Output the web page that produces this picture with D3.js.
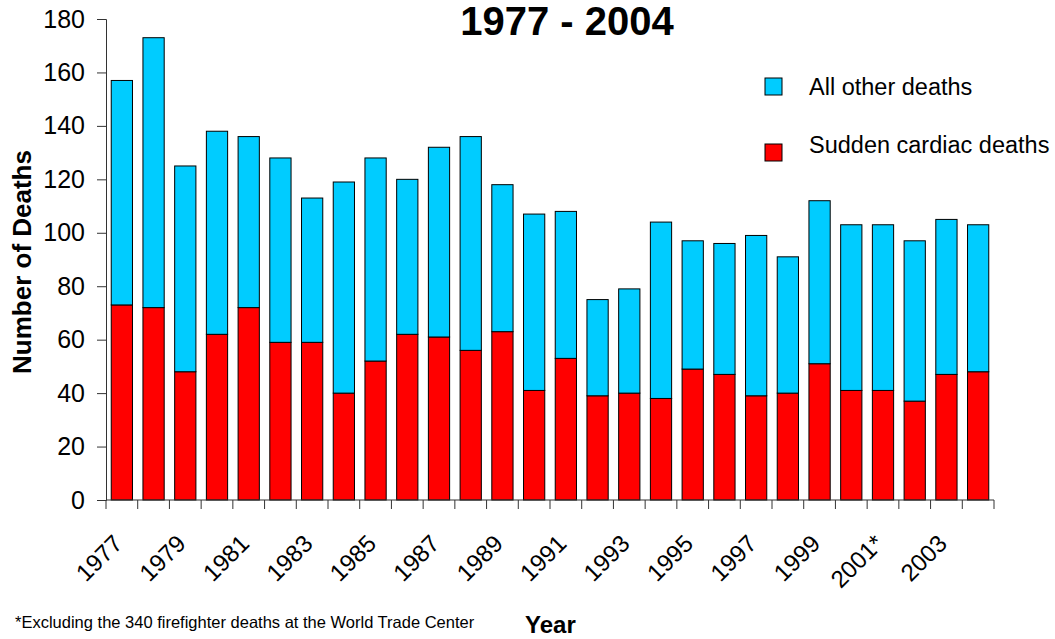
<!DOCTYPE html>
<html>
<head>
<meta charset="utf-8">
<script src="https://cdn.jsdelivr.net/npm/d3@7/dist/d3.min.js"></script>
<style>
  body { margin: 0; background: #fff; }
  svg { display: block; font-family: "Liberation Sans", Arial, sans-serif; }
</style>
</head>
<body>
<svg id="chart" width="1055" height="639"></svg>
<script>
// data
const years = ["1977","1978","1979","1980","1981","1982","1983","1984","1985","1986",
  "1987","1988","1989","1990","1991","1992","1993","1994","1995","1996",
  "1997","1998","1999","2000","2001*","2002","2003","2004"];
const suddenCardiac = [73,72,48,62,72,59,59,40,52,62,61,56,63,41,53,39,40,38,49,47,39,40,51,41,41,37,47,48];
const allOther = [84,101,77,76,64,69,54,79,76,58,71,80,55,66,55,36,39,66,48,49,60,51,61,62,62,60,58,55];
const yTicks = [0,20,40,60,80,100,120,140,160,180];
const seriesNames = ["All other deaths", "Sudden cardiac deaths"];
const seriesColors = ["#00ccff", "#ff0000"];

const svg = d3.select("#chart");

const x = d3.scaleBand().domain(years).range([106, 994]).paddingInner(0.33).paddingOuter(0.165);
const y = d3.scaleLinear().domain([0, 180]).range([500, 19]);

const rows = years.map((yr, i) => ({ year: yr, cardiac: suddenCardiac[i], other: allOther[i] }));
const stacked = d3.stack().keys(["cardiac", "other"])(rows);
const colorOf = { cardiac: seriesColors[1], other: seriesColors[0] };

// bars
svg.append("g")
  .selectAll("g")
  .data(stacked)
  .enter()
  .append("g")
  .attr("fill", d => colorOf[d.key])
  .selectAll("rect")
  .data(d => d)
  .enter()
  .append("rect")
  .attr("x", d => x(d.data.year))
  .attr("y", d => y(d[1]))
  .attr("width", x.bandwidth())
  .attr("height", d => y(d[0]) - y(d[1]))
  .attr("stroke", "#000")
  .attr("stroke-width", 1);

// y axis
const yAxis = svg.append("g")
  .attr("transform", "translate(106,0)")
  .call(d3.axisLeft(y).tickValues(yTicks).tickSize(9).tickPadding(12));
yAxis.select(".domain").attr("stroke", "#333");
yAxis.selectAll(".tick line").attr("stroke", "#333");
yAxis.selectAll("text")
  .attr("font-size", 25)
  .attr("fill", "#000")
  .attr("font-family", "Liberation Sans, Arial, sans-serif");

// x axis: ticks on the category boundaries
const halfGap = x.step() * x.paddingOuter();
const bounds = years.map(d => x(d) - halfGap).concat([x(years[years.length - 1]) - halfGap + x.step()]);
const xAxis = svg.append("g");
xAxis.append("line")
  .attr("x1", x.range()[0]).attr("x2", x.range()[1])
  .attr("y1", y(0)).attr("y2", y(0))
  .attr("stroke", "#333");
xAxis.selectAll("line.tick")
  .data(bounds)
  .enter()
  .append("line")
  .attr("class", "tick")
  .attr("x1", d => d).attr("x2", d => d)
  .attr("y1", y(0)).attr("y2", y(0) + 9)
  .attr("stroke", "#333");

xAxis.selectAll("text")
  .data(years.filter((d, i) => i % 2 === 0))
  .enter()
  .append("text")
  .attr("transform", d => `translate(${x(d) + x.bandwidth() / 2 + 2},${y(0) + 45}) rotate(-45)`)
  .attr("text-anchor", "end")
  .attr("font-size", 24)
  .attr("fill", "#000")
  .text(d => d);

// title
svg.append("text")
  .attr("x", 567).attr("y", 35)
  .attr("text-anchor", "middle")
  .attr("font-size", 40)
  .attr("font-weight", "bold")
  .text("1977 - 2004");

// axis titles
svg.append("text")
  .attr("transform", "translate(31,262) rotate(-90)")
  .attr("text-anchor", "middle")
  .attr("font-size", 26)
  .attr("font-weight", "bold")
  .text("Number of Deaths");

svg.append("text")
  .attr("x", 525).attr("y", 633)
  .attr("font-size", 24)
  .attr("font-weight", "bold")
  .text("Year");

svg.append("text")
  .attr("x", 15).attr("y", 628)
  .attr("font-size", 16.5)
  .text("*Excluding the 340 firefighter deaths at the World Trade Center");

// legend
const legend = svg.append("g");
const legendRows = [
  { name: seriesNames[0], color: seriesColors[0], box: 78, text: 95 },
  { name: seriesNames[1], color: seriesColors[1], box: 144, text: 153 }
];
legend.selectAll("rect")
  .data(legendRows)
  .enter()
  .append("rect")
  .attr("x", 765).attr("y", d => d.box)
  .attr("width", 17).attr("height", 17)
  .attr("fill", d => d.color)
  .attr("stroke", "#000");
legend.selectAll("text")
  .data(legendRows)
  .enter()
  .append("text")
  .attr("x", 809).attr("y", d => d.text)
  .attr("font-size", 23.5)
  .text(d => d.name);
</script>
</body>
</html>
